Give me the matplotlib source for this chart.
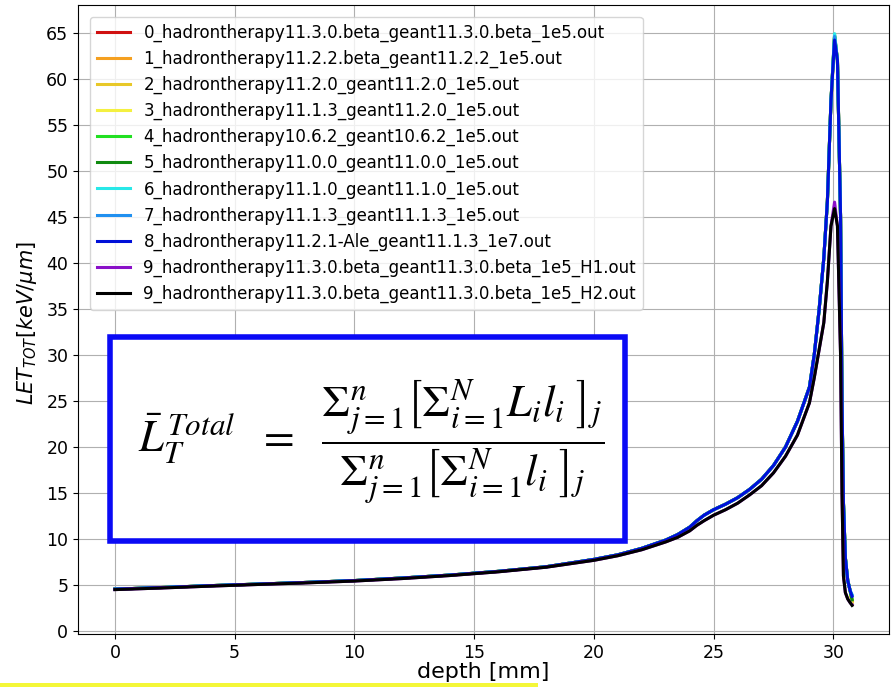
import numpy as np
import matplotlib
matplotlib.use("Agg")
import matplotlib.pyplot as plt
from matplotlib.patches import Rectangle

# depth grid [mm] shared by all runs
depth = [0, 2, 4, 6, 8, 10, 12, 14, 16, 18, 20, 21, 22, 23, 23.5, 24, 24.3,
         24.6, 25, 25.5, 26, 26.5, 27, 27.5, 28, 28.5, 29, 29.2, 29.4, 29.6,
         29.75, 29.9, 30.05, 30.17, 30.3, 30.36, 30.42, 30.5, 30.6, 30.7, 30.78]

# LET profile of the 1e5 / 1e7 runs (series 0-8)
let_main = [4.57, 4.75, 4.95, 5.12, 5.3, 5.5, 5.78, 6.1, 6.5, 7.0, 7.8, 8.3,
            9.0, 9.9, 10.5, 11.3, 12.0, 12.6, 13.2, 13.8, 14.5, 15.4, 16.5,
            18.0, 20.0, 22.8, 26.5, 30.0, 34.8, 40.5, 46.7, 57.6, 64.5, 62.0,
            45.0, 25.0, 14.0, 8.0, 5.5, 4.4, 3.9]

# LET profile of the 11.3.0.beta H1/H2 runs
let_h = [4.52, 4.7, 4.9, 5.08, 5.25, 5.45, 5.72, 6.05, 6.45, 6.95, 7.7, 8.2,
         8.85, 9.7, 10.2, 10.9, 11.5, 12.0, 12.6, 13.2, 13.9, 14.8, 15.8,
         17.2, 19.0, 21.3, 24.8, 27.5, 30.5, 33.5, 38.0, 44.0, 45.9, 44.0,
         30.0, 15.0, 6.0, 4.2, 3.5, 3.1, 2.8]

labels = [
    "0_hadrontherapy11.3.0.beta_geant11.3.0.beta_1e5.out",
    "1_hadrontherapy11.2.2.beta_geant11.2.2_1e5.out",
    "2_hadrontherapy11.2.0_geant11.2.0_1e5.out",
    "3_hadrontherapy11.1.3_geant11.2.0_1e5.out",
    "4_hadrontherapy10.6.2_geant10.6.2_1e5.out",
    "5_hadrontherapy11.0.0_geant11.0.0_1e5.out",
    "6_hadrontherapy11.1.0_geant11.1.0_1e5.out",
    "7_hadrontherapy11.1.3_geant11.1.3_1e5.out",
    "8_hadrontherapy11.2.1-Ale_geant11.1.3_1e7.out",
    "9_hadrontherapy11.3.0.beta_geant11.3.0.beta_1e5_H1.out",
    "9_hadrontherapy11.3.0.beta_geant11.3.0.beta_1e5_H2.out",
]
colors = ["#d01010", "#f5a020", "#e8c828", "#f4f040", "#22e022", "#108a10",
          "#28e8e8", "#2090f0", "#0010d8", "#8a10c8", "#000000"]

# Bragg peak height and last-bin LET for each run
peak = [64.6, 64.3, 64.5, 64.4, 64.8, 64.7, 64.9, 64.6, 64.2, 46.6, 45.9]
tail = [3.3, 3.2, 3.1, 3.0, 3.5, 3.4, 4.0, 3.9, 3.8, 2.9, 2.8]

fig = plt.figure(figsize=(8.95, 6.87), dpi=100)
ax = fig.add_axes([0.0872, 0.0771, 0.906, 0.9156])

x = np.array(depth)
for k, (lab, col) in enumerate(zip(labels, colors)):
    y = np.array(let_h if k >= 9 else let_main, dtype=float)
    ipk = int(np.argmax(y))
    y[ipk] = peak[k]
    y[-1] = tail[k]
    ax.plot(x, y, color=col, lw=2.2, label=lab)

ax.grid(True)
ax.set_xlabel("depth [mm]", fontsize=16, labelpad=0)
ax.set_ylabel(r"$LET_{TOT} [keV/\mu m]$", fontsize=15, labelpad=5, y=0.495)
ax.tick_params(labelsize=12.5)
ax.set_yticks(np.arange(0, 70, 5))
ax.legend(loc="upper left", fontsize=12, handlelength=2.0,
          labelspacing=0.47, borderaxespad=0.72)

# formula box
ax.add_patch(Rectangle((0.0395, 0.148), 0.635, 0.324, transform=ax.transAxes,
                       facecolor="white", edgecolor="#0a0af5", lw=4, zorder=5))
formula = (r"$\bar{L}_T^{\,Total}\ \ =\ \ \dfrac{\Sigma_{j=1}^{n}\left[\Sigma_{i=1}^{N}L_i l_i\ \right]_j}"
           r"{\Sigma_{j=1}^{n}\left[\Sigma_{i=1}^{N}l_i\ \right]_j}$")
ax.text(0.361, 0.305, formula, transform=ax.transAxes, ha="center", va="center",
        fontsize=32, math_fontfamily="stix", zorder=6)

# highlighter stroke under the axis label
fig.patches.append(Rectangle((0, 0), 538 / 895, 4 / 687, transform=fig.transFigure,
                             facecolor="#f4f738", edgecolor="none"))

fig.savefig("out.png", dpi=100)
